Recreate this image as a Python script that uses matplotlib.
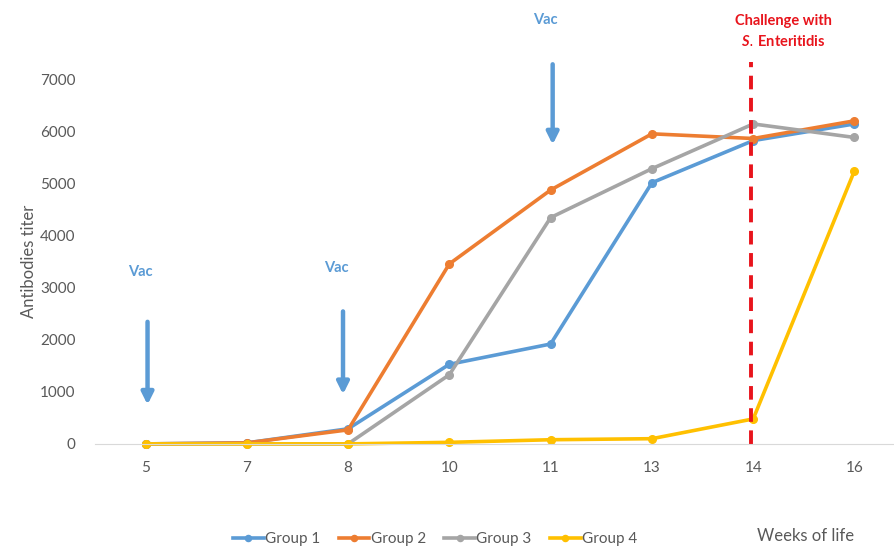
import matplotlib.pyplot as plt

plt.rcParams['font.family'] = ['Lato', 'DejaVu Sans']
plt.rcParams['mathtext.fontset'] = 'custom'
plt.rcParams['mathtext.it'] = 'Lato:italic:bold'

# data
weeks = ['5', '7', '8', '10', '11', '13', '14', '16']
group1 = [0, 20, 290, 1530, 1920, 5020, 5830, 6150]
group2 = [0, 20, 270, 3460, 4880, 5960, 5870, 6210]
group3 = [0, 0, 0, 1330, 4350, 5290, 6150, 5890]
group4 = [0, 0, 0, 30, 80, 100, 480, 5250]
names = ['Group 1', 'Group 2', 'Group 3', 'Group 4']
colors = ['#5B9BD5', '#ED7D31', '#A5A5A5', '#FFC000']

fig = plt.figure(figsize=(8.95, 5.46), dpi=100)
ax = fig.add_axes([0.106, 0.187, 0.894, 0.667])

x = list(range(len(weeks)))
for vals, name, c in zip([group1, group2, group3, group4], names, colors):
    ax.plot(x, vals, color=c, lw=2.6, marker='o', ms=5.5, label=name, clip_on=False)

ax.set_xlim(-0.5, 7.4)
ax.set_ylim(0, 7000)
ax.set_xticks(x)
ax.set_xticklabels(weeks)
ax.set_yticks(range(0, 7001, 1000))
ax.tick_params(length=0, labelsize=11, colors='#595959', pad=12)
ax.tick_params(axis='y', pad=14)
for s in ['top', 'right', 'left']:
    ax.spines[s].set_visible(False)
ax.spines['bottom'].set_color('#D9D9D9')
ax.set_ylabel('Antibodies titer', fontsize=12, color='#595959', labelpad=2)

# vaccination arrows
vac_color = '#5B9BD5'
vacs = [(0.02, 2400, 700, 3300), (1.95, 2600, 900, 3380), (4.02, 7350, 5700, 8150)]
for xv, y0, y1, yt in vacs:
    ax.annotate('', xy=(xv, y1), xytext=(xv, y0),
                arrowprops=dict(arrowstyle='-|>,head_length=0.7,head_width=0.35',
                                color=vac_color, lw=3.2), annotation_clip=False)
    ax.text(xv - 0.07, yt, 'Vac', color=vac_color, fontsize=10.5, fontweight='bold',
            ha='center', va='center', clip_on=False)

# challenge line
ax.plot([5.98, 5.98], [0, 7350], color='#E8141C', lw=2.8, ls=(0, (3.5, 2.2)), clip_on=False)
ax.text(6.3, 7930, 'Challenge with\n$\\mathit{S.}\\,$Enteritidis', color='#E8141C',
        fontsize=10.5, fontweight='bold', ha='center', va='center', clip_on=False,
        linespacing=1.5)

fig.legend(loc='lower left', bbox_to_anchor=(0.245, -0.025), ncol=4, frameon=False,
           fontsize=11, labelcolor='#595959', handlelength=2.0, handletextpad=0.1,
           columnspacing=1.2, markerscale=0.8)
fig.text(0.9, 0.01, 'Weeks of life', fontsize=12, color='#595959', ha='center')

plt.savefig('out.png', dpi=100)
